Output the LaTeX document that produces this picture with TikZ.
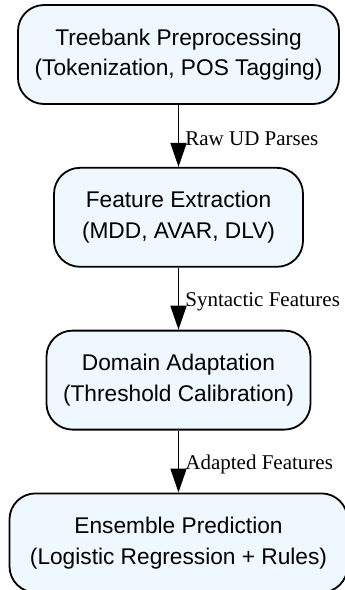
\documentclass[tikz,border=0pt]{standalone}
\usepackage{fontspec}
\setmainfont{Liberation Serif}
\newfontfamily\boxfont{Liberation Sans}
\usetikzlibrary{positioning,arrows.meta}
\definecolor{boxfill}{HTML}{F0F8FF}
\begin{document}
\begin{tikzpicture}
[
x=1pt, y=1pt,
stage/.style={rectangle, rounded corners=26pt, draw=black, line width=1.8pt, fill=boxfill, align=center, minimum height=99pt, inner sep=0pt, font=\boxfont\fontsize{22.7}{30.5}\selectfont, node distance=62pt},
flow/.style={line width=1.8pt, -{Triangle[length=24pt,width=16pt]}},
lbl/.style={right, inner sep=6pt, yshift=-3pt, font=\fontsize{21}{24}\selectfont}
]
\useasboundingbox (0,0) rectangle (345,-590);
%Nodes
\node[stage, minimum width=321pt]  (prep)   at (178.5,-54.5)    {Treebank Preprocessing\\(Tokenization, POS Tagging)};
\node[stage, minimum width=249pt]  (feat)   [below=of prep]     {Feature Extraction\\(MDD, AVAR, DLV)};
\node[stage, minimum width=264pt]  (adapt)  [below=of feat]     {Domain Adaptation\\(Threshold Calibration)};
\node[stage, minimum width=338pt]  (ens)    [below=of adapt]    {Ensemble Prediction\\(Logistic Regression + Rules)};

%Lines
\path[flow]
(prep)  edge    node[lbl]   {Raw UD Parses}         (feat)
(feat)  edge    node[lbl]   {Syntactic Features}    (adapt)
(adapt) edge    node[lbl]   {Adapted Features}      (ens);

\end{tikzpicture}
\end{document}
